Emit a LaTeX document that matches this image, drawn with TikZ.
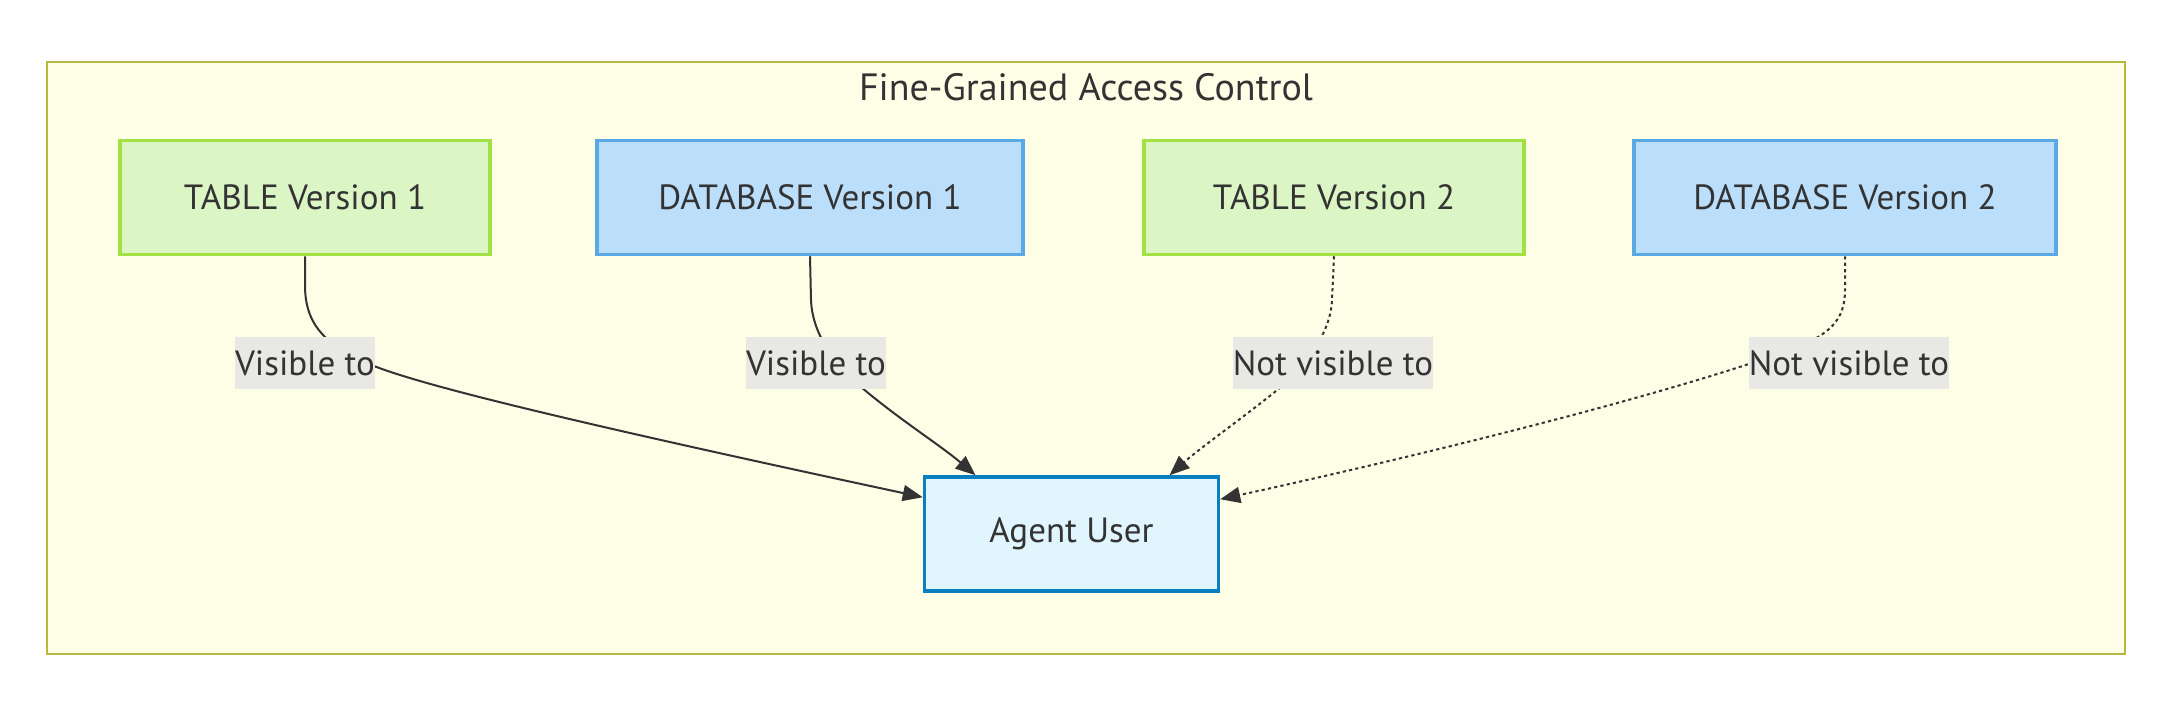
\documentclass[tikz,border=0pt]{standalone}
\usepackage{fontspec}
\setmainfont{PT Sans}
\usetikzlibrary{arrows.meta,calc}
\definecolor{txt}{HTML}{333333}
\definecolor{clfill}{HTML}{FEFDE6}
\definecolor{cldraw}{HTML}{B8B840}
\definecolor{tbfill}{HTML}{DCF5C4}
\definecolor{tbdraw}{HTML}{A2E044}
\definecolor{dbfill}{HTML}{BBDEFB}
\definecolor{dbdraw}{HTML}{5AA8E4}
\definecolor{agfill}{HTML}{E1F5FE}
\definecolor{agdraw}{HTML}{0A7FC0}
\definecolor{lblfill}{HTML}{E8E8E4}
\tikzset{
  base/.style={rectangle, line width=1.75pt, minimum height=57pt, text=txt, font=\fontsize{17.5}{20}\selectfont, inner sep=0pt},
  tbbox/.style={base, draw=tbdraw, fill=tbfill},
  dbbox/.style={base, draw=dbdraw, fill=dbfill},
  agbox/.style={base, draw=agdraw, fill=agfill},
  lbl/.style={fill=lblfill, text=txt, font=\fontsize{17.5}{20}\selectfont, inner sep=0pt, minimum height=26pt},
  edge/.style={draw=txt, line width=1pt, -{Triangle[length=10pt,width=8pt]}},
  dotedge/.style={edge, dash pattern=on 1.6pt off 1.6pt}
}
\begin{document}
\begin{tikzpicture}[x=0.5pt,y=-0.5pt]
\useasboundingbox (0,0) rectangle (2172,724);
\fill[white] (0,0) rectangle (2172,724);
\node[draw=cldraw, fill=clfill, line width=1pt, minimum width=1039pt, minimum height=296pt, inner sep=0pt] (cl) at (1085.5,357.5) {};
\node[text=txt, font=\fontsize{19}{22}\selectfont] (title) at (1086,87) {Fine-Grained Access Control};
\node[tbbox, minimum width=185pt] (t1) at (305,197.5) {TABLE Version 1};
\node[dbbox, minimum width=213pt] (d1) at (810,197.5) {DATABASE Version 1};
\node[tbbox, minimum width=190pt] (t2) at (1334,197.5) {TABLE Version 2};
\node[dbbox, minimum width=211pt] (d2) at (1845,197.5) {DATABASE Version 2};
\node[agbox, minimum width=147pt] (ag) at (1071.5,534) {Agent User};
\draw[edge] (t1.south) -- (305,285) .. controls (305,322) and (322,345) .. (374,366) .. controls (430,388) and (600,428) .. ([yshift=-11pt]ag.north west);
\draw[edge] (d1.south) -- (811,300) .. controls (812,330) and (830,360) .. (861,387) .. controls (900,420) and (940,445) .. ([xshift=-48pt]ag.north);
\draw[dotedge] (t2.south) -- (1332,300) .. controls (1331,330) and (1310,360) .. (1281,387) .. controls (1240,420) and (1200,448) .. ([xshift=49pt]ag.north);
\draw[dotedge] (d2.south) -- (1845,290) .. controls (1845,320) and (1830,335) .. (1790,350) .. controls (1650,400) and (1400,460) .. ([yshift=-12pt]ag.north east);
\node[lbl] (l1) at (305,363) {Visible to};
\node[lbl] (l2) at (816,363) {Visible to};
\node[lbl] (l3) at (1333,363) {Not visible to};
\node[lbl] (l4) at (1849,363) {Not visible to};
\end{tikzpicture}
\end{document}
